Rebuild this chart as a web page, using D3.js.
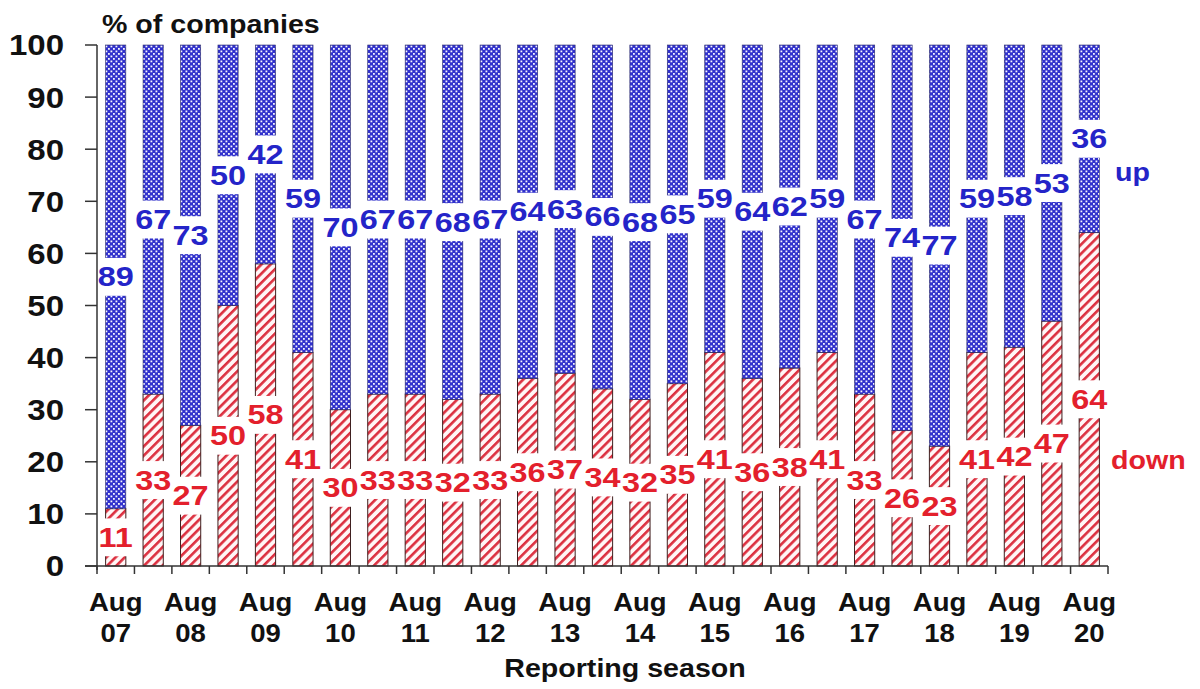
<!DOCTYPE html>
<html>
<head>
<meta charset="utf-8">
<script src="https://cdn.jsdelivr.net/npm/d3@7"></script>
<style>
  html, body { margin: 0; padding: 0; background: #ffffff; }
  svg { display: block; font-family: "Liberation Sans", Arial, sans-serif; }
</style>
</head>
<body>
<svg id="chart" width="1200" height="689"></svg>
<script>
// ---- data ----
const seasons = ["Aug 07","Feb 08","Aug 08","Feb 09","Aug 09","Feb 10","Aug 10","Feb 11","Aug 11",
  "Feb 12","Aug 12","Feb 13","Aug 13","Feb 14","Aug 14","Feb 15","Aug 15","Feb 16","Aug 16",
  "Feb 17","Aug 17","Feb 18","Aug 18","Feb 19","Aug 19","Feb 20","Aug 20"];
const downValues = [11,33,27,50,58,41,30,33,33,32,33,36,37,34,32,35,41,36,38,41,33,26,23,41,42,47,64];
const upValues   = [89,67,73,50,42,59,70,67,67,68,67,64,63,66,68,65,59,64,62,59,67,74,77,59,58,53,36];
const yTicks = [0,10,20,30,40,50,60,70,80,90,100];
const xTickLabels = ["Aug 07","Aug 08","Aug 09","Aug 10","Aug 11","Aug 12","Aug 13","Aug 14",
  "Aug 15","Aug 16","Aug 17","Aug 18","Aug 19","Aug 20"];

(function () {
const svg = d3.select("#chart");
const mLeft = 97, mRight = 1108, mTop = 45, mBottom = 566;
const SX = 1.1; // horizontal text stretch

const x = d3.scaleBand().domain(seasons).range([mLeft, mRight]).paddingInner(0.46).paddingOuter(0.23);
const y = d3.scaleLinear().domain([0, 100]).range([mBottom, mTop]);

const blue = "#2424c8", red = "#e3202c";

// patterns
const defs = svg.append("defs");
const pUp = defs.append("pattern").attr("id", "pUp").attr("patternUnits", "userSpaceOnUse")
  .attr("width", 5).attr("height", 5);
pUp.append("rect").attr("width", 5).attr("height", 5).attr("fill", "#3030cc");
pUp.append("rect").attr("x", 0.5).attr("y", 0.5).attr("width", 1.8).attr("height", 1.8).attr("fill", "#f4f4ff");
pUp.append("rect").attr("x", 3.0).attr("y", 3.0).attr("width", 1.8).attr("height", 1.8).attr("fill", "#f4f4ff");

const pDown = defs.append("pattern").attr("id", "pDown").attr("patternUnits", "userSpaceOnUse")
  .attr("width", 6.5).attr("height", 6.5).attr("patternTransform", "rotate(45)");
pDown.append("rect").attr("width", 6.5).attr("height", 6.5).attr("fill", "#fff6f6");
pDown.append("rect").attr("x", 0).attr("width", 2.6).attr("height", 6.5).attr("fill", "#dc3040");

const data = seasons.map((s, i) => ({ s, down: downValues[i], up: upValues[i] }));

// bars
const g = svg.append("g");
g.selectAll("rect.down").data(data).join("rect").attr("class", "down")
  .attr("x", d => x(d.s)).attr("width", x.bandwidth())
  .attr("y", d => y(d.down)).attr("height", d => y(0) - y(d.down))
  .attr("fill", "url(#pDown)").attr("stroke", "#402020").attr("stroke-width", 1);
g.selectAll("rect.up").data(data).join("rect").attr("class", "up")
  .attr("x", d => x(d.s)).attr("width", x.bandwidth())
  .attr("y", d => y(d.down + d.up)).attr("height", d => y(d.down) - y(d.down + d.up))
  .attr("fill", "url(#pUp)").attr("stroke", "#30306a").attr("stroke-width", 0.6);

// stretched text helper
function stext(parent, tx, ty, txt, opts) {
  const sx = opts.sx || SX;
  const grp = parent.append("g").attr("transform", `translate(${tx},${ty}) scale(${sx},1)`);
  const t = grp.append("text").attr("x", 0).attr("y", 0)
    .attr("text-anchor", opts.anchor || "start")
    .attr("dominant-baseline", opts.baseline || "auto")
    .attr("font-size", opts.size).attr("font-weight", opts.weight || "bold")
    .attr("fill", opts.fill || "#111").text(txt);
  return { grp, t };
}

// value labels with white boxes
function addLabel(cx, cy, txt, color) {
  const { grp, t } = stext(svg, cx, cy, txt, { anchor: "middle", baseline: "central", size: 27, sx: 1.2, fill: color });
  const bb = t.node().getBBox();
  grp.insert("rect", "text").attr("x", bb.x - 0.5).attr("y", bb.y - 4)
    .attr("width", bb.width + 1).attr("height", bb.height + 8).attr("fill", "#ffffff");
}
data.forEach(d => {
  const cx = x(d.s) + x.bandwidth() / 2;
  addLabel(cx, y(d.down / 2), d.down, red);
  addLabel(cx, y(d.down + d.up / 2), d.up, blue);
});

// y axis
const axisColor = "#333333";
svg.append("line").attr("x1", mLeft).attr("x2", mLeft).attr("y1", y(100)).attr("y2", mBottom + 4)
  .attr("stroke", axisColor).attr("stroke-width", 1.5);
svg.selectAll("line.yt").data(yTicks).join("line").attr("class", "yt")
  .attr("x1", mLeft - 12).attr("x2", mLeft).attr("y1", d => y(d)).attr("y2", d => y(d))
  .attr("stroke", axisColor).attr("stroke-width", 1.5);
yTicks.forEach(v => stext(svg, 64, y(v), v, { anchor: "end", baseline: "central", size: 30 }));

// x axis
svg.append("line").attr("x1", mLeft - 12).attr("x2", mRight).attr("y1", mBottom).attr("y2", mBottom)
  .attr("stroke", axisColor).attr("stroke-width", 1.5);
const bounds = seasons.map(s => x(s) + x.bandwidth() / 2 - x.step() / 2)
  .concat([x(seasons[seasons.length - 1]) + x.bandwidth() / 2 + x.step() / 2]);
svg.selectAll("line.xt").data(bounds).join("line").attr("class", "xt")
  .attr("x1", d => d).attr("x2", d => d).attr("y1", mBottom).attr("y2", mBottom + 8)
  .attr("stroke", axisColor).attr("stroke-width", 1.5);
xTickLabels.forEach(lbl => {
  const cx = x(lbl) + x.bandwidth() / 2;
  const parts = lbl.split(" ");
  stext(svg, cx, 611, parts[0], { anchor: "middle", size: 25 });
  stext(svg, cx, 642, parts[1], { anchor: "middle", size: 25 });
});

// titles
stext(svg, 625, 677, "Reporting season", { anchor: "middle", size: 26 });
stext(svg, 102, 33, "% of companies", { size: 26 });

// legend-like labels
stext(svg, 1115, 172, "up", { baseline: "central", size: 26, fill: blue });
stext(svg, 1111, 460, "down", { baseline: "central", size: 26, fill: red });
})();
</script>
</body>
</html>
